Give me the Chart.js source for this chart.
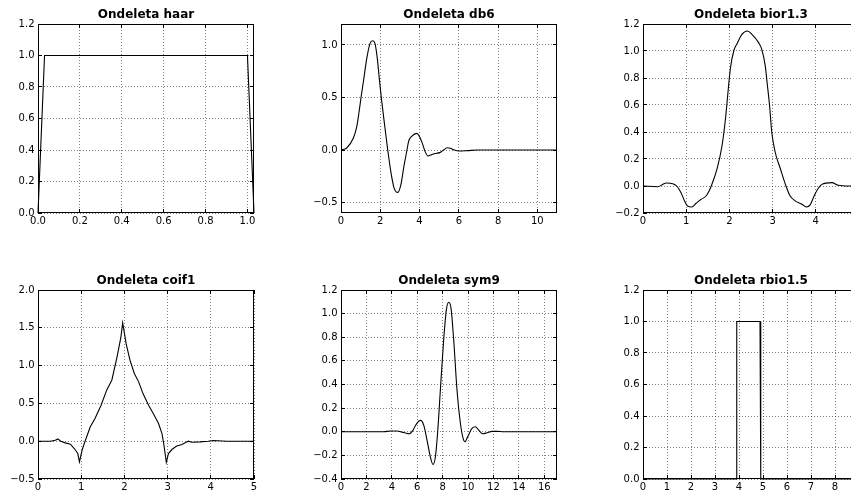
<!DOCTYPE html>
<html>
<head>
<meta charset="utf-8">
<script src="https://cdn.jsdelivr.net/npm/chart.js@4.4.1/dist/chart.umd.min.js"></script>
<style>
  html, body { margin: 0; padding: 0; background: #fff; overflow: hidden; width: 851px; height: 491px; position: relative; }
  canvas { position: absolute; }
</style>
</head>
<body>
<canvas id="haar" width="271" height="233" style="left:-2px;top:0px"></canvas>
<canvas id="db6" width="271" height="233" style="left:301px;top:0px"></canvas>
<canvas id="bior" width="271" height="233" style="left:603px;top:0px"></canvas>
<canvas id="coif" width="271" height="233" style="left:-2px;top:266px"></canvas>
<canvas id="sym" width="271" height="233" style="left:301px;top:266px"></canvas>
<canvas id="rbio" width="271" height="233" style="left:603px;top:266px"></canvas>
<script>
// ---- data ----
const HAAR_X = [0, 0.03125, 1.0, 1.03125];
const HAAR_Y = [0, 1, 1, 0];
const HAAR_XTICKS = [0, 0.2, 0.4, 0.6, 0.8, 1.0];
const HAAR_YTICKS = [0, 0.2, 0.4, 0.6, 0.8, 1.0, 1.2];

const DB6_X = [0, 0.29, 0.63, 0.8, 0.91, 1.02, 1.14, 1.31, 1.48, 1.62, 1.73, 1.85, 1.95, 2.07, 2.24, 2.38, 2.55, 2.7, 2.89, 3.05, 3.2, 3.36, 3.44, 3.6, 3.86, 4.11, 4.28, 4.43, 4.58, 4.75, 5.03, 5.23, 5.4, 5.57, 5.77, 5.99, 6.42, 6.93, 11];
const DB6_Y = [0, 0.019, 0.114, 0.22, 0.35, 0.5, 0.65, 0.87, 1.016, 1.04, 1.016, 0.87, 0.68, 0.47, 0.21, 0.0, -0.22, -0.36, -0.404, -0.33, -0.16, 0.0, 0.08, 0.13, 0.158, 0.08, -0.013, -0.057, -0.047, -0.035, -0.025, 0.0, 0.022, 0.016, 0.0, -0.009, -0.006, 0, 0];
const DB6_XTICKS = [0, 2, 4, 6, 8, 10];
const DB6_YTICKS = [-0.5, 0, 0.5, 1.0];

const BIOR_X = [0, 0.34, 0.46, 0.54, 0.69, 0.78, 0.88, 0.96, 1.03, 1.13, 1.23, 1.34, 1.46, 1.53, 1.58, 1.715, 1.83, 1.91, 1.96, 2.02, 2.1, 2.18, 2.29, 2.42, 2.52, 2.68, 2.75, 2.83, 2.88, 2.93, 2.98, 3.06, 3.18, 3.31, 3.4, 3.52, 3.68, 3.78, 3.87, 3.96, 4.05, 4.14, 4.37, 4.52, 4.77, 5];
const BIOR_Y = [0, -0.005, 0.012, 0.022, 0.017, 0.0, -0.05, -0.11, -0.148, -0.155, -0.128, -0.1, -0.074, -0.037, 0.0, 0.128, 0.3, 0.5, 0.67, 0.865, 1.0, 1.056, 1.123, 1.148, 1.123, 1.06, 1.012, 0.89, 0.744, 0.596, 0.4, 0.25, 0.128, 0.0, -0.07, -0.11, -0.135, -0.155, -0.14, -0.074, -0.02, 0.012, 0.025, 0.005, 0, 0];
const BIOR_XTICKS = [0, 1, 2, 3, 4, 5];
const BIOR_YTICKS = [-0.2, 0, 0.2, 0.4, 0.6, 0.8, 1.0, 1.2];

const COIF_X = [0, 0.29, 0.4, 0.46, 0.53, 0.63, 0.75, 0.84, 0.92, 0.96, 1.02, 1.09, 1.21, 1.32, 1.46, 1.59, 1.71, 1.83, 1.92, 1.96, 2.04, 2.13, 2.23, 2.33, 2.43, 2.56, 2.69, 2.79, 2.87, 2.91, 2.97, 3.02, 3.1, 3.2, 3.33, 3.44, 3.48, 3.56, 3.75, 3.94, 4.06, 4.37, 5];
const COIF_Y = [0, 0, 0.013, 0.03, 0.0, -0.022, -0.04, -0.097, -0.163, -0.273, -0.12, 0.0, 0.19, 0.3, 0.476, 0.675, 0.81, 1.115, 1.38, 1.566, 1.29, 1.07, 0.895, 0.785, 0.63, 0.476, 0.344, 0.234, 0.1, -0.03, -0.28, -0.163, -0.11, -0.066, -0.044, -0.01, 0, -0.013, -0.009, 0.0, 0.009, 0, 0];
const COIF_XTICKS = [0, 1, 2, 3, 4, 5];
const COIF_YTICKS = [-0.5, 0, 0.5, 1.0, 1.5, 2.0];

const SYM_X = [0, 3.36, 3.88, 4.41, 4.8, 5.07, 5.38, 5.67, 5.93, 6.25, 6.51, 6.77, 7.03, 7.24, 7.43, 7.61, 7.82, 8.08, 8.29, 8.48, 8.66, 8.87, 9.13, 9.4, 9.61, 9.76, 9.97, 10.31, 10.58, 10.84, 11.15, 11.5, 11.89, 12.28, 12.8, 17];
const SYM_Y = [0, 0, 0.006, 0.006, -0.003, -0.011, -0.017, 0.014, 0.065, 0.096, 0.056, -0.071, -0.212, -0.277, -0.212, 0.0, 0.353, 0.777, 1.03, 1.096, 1.045, 0.777, 0.353, 0.07, -0.056, -0.085, -0.042, 0.028, 0.042, 0.014, -0.017, -0.008, 0.003, 0.003, 0, 0];
const SYM_XTICKS = [0, 2, 4, 6, 8, 10, 12, 14, 16];
const SYM_YTICKS = [-0.4, -0.2, 0, 0.2, 0.4, 0.6, 0.8, 1.0, 1.2];

const RBIO_X = [0, 3.875, 3.90625, 4.875, 4.90625, 9];
const RBIO_Y = [0, 0, 1, 1, 0, 0];
const RBIO_XTICKS = [0, 1, 2, 3, 4, 5, 6, 7, 8, 9];
const RBIO_YTICKS = [0, 0.2, 0.4, 0.6, 0.8, 1.0, 1.2];

const FONT = "'DejaVu Sans', 'Liberation Sans', sans-serif";

// matplotlib-style box with inward ticks on all four sides
const framePlugin = {
  id: "frame",
  afterDatasetsDraw(chart) {
    const { ctx, chartArea: a, scales: { x, y } } = chart;
    const al = (p) => Math.round(p - 0.5) + 0.5;
    ctx.save();
    ctx.strokeStyle = "#000";
    ctx.lineWidth = 1;
    ctx.strokeRect(a.left + 0.5, a.top + 0.5, a.width - 1, a.height - 1);
    ctx.beginPath();
    for (const t of x.ticks) {
      const p = al(x.getPixelForValue(t.value));
      ctx.moveTo(p, a.top); ctx.lineTo(p, a.top + 4);
      ctx.moveTo(p, a.bottom); ctx.lineTo(p, a.bottom - 4);
    }
    for (const t of y.ticks) {
      const p = al(y.getPixelForValue(t.value));
      ctx.moveTo(a.left, p); ctx.lineTo(a.left + 4, p);
      ctx.moveTo(a.right, p); ctx.lineTo(a.right - 4, p);
    }
    ctx.stroke();
    ctx.restore();
  },
};

function fmt(decimals) {
  return (v) => (v < 0 ? "\u2212" : "") + Math.abs(v).toFixed(decimals);
}

function axis(min, max, ticks, decimals, isY) {
  return {
    type: "linear",
    min, max,
    afterBuildTicks: (s) => { s.ticks = ticks.map((v) => ({ value: v })); },
    afterFit: (s) => { if (isY) s.width = 40; else s.height = 20; },
    ticks: {
      autoSkip: false,
      maxRotation: 0,
      padding: isY ? 3.5 : 2,
      color: "#000",
      font: { family: FONT, size: 10 },
      callback: fmt(decimals),
    },
    grid: { drawTicks: false, color: "rgba(0,0,0,0.5)", lineWidth: 1 },
    border: { display: false, dash: [1, 2] },
  };
}

function panel(id, title, xs, ys, xr, yr, xTicks, yTicks, xDec, yDec, smooth) {
  new Chart(document.getElementById(id), {
    type: "line",
    data: {
      datasets: [{
        data: xs.map((x, i) => ({ x, y: ys[i] })),
        borderColor: "#000",
        borderWidth: 1.1,
        pointRadius: 0,
        fill: false,
        clip: false,
        cubicInterpolationMode: smooth ? "monotone" : "default",
        tension: 0,
      }],
    },
    options: {
      responsive: false,
      animation: false,
      devicePixelRatio: 1,
      layout: { padding: { left: 0, right: 15, top: 0, bottom: 0 } },
      scales: {
        x: axis(xr[0], xr[1], xTicks, xDec, false),
        y: axis(yr[0], yr[1], yTicks, yDec, true),
      },
      plugins: {
        legend: { display: false },
        tooltip: { enabled: false },
        title: {
          display: true,
          text: title,
          fullSize: false,
          color: "#000",
          font: { family: FONT, size: 12, weight: "bold" },
          padding: { top: 8, bottom: 1.6 },
        },
      },
    },
    plugins: [framePlugin],
  });
}

panel("haar", "Ondeleta haar", HAAR_X, HAAR_Y, [0, 1.03125], [0, 1.2], HAAR_XTICKS, HAAR_YTICKS, 1, 1, false);
panel("db6", "Ondeleta db6", DB6_X, DB6_Y, [0, 11], [-0.6, 1.2], DB6_XTICKS, DB6_YTICKS, 0, 1, true);
panel("bior", "Ondeleta bior1.3", BIOR_X, BIOR_Y, [0, 5], [-0.2, 1.2], BIOR_XTICKS, BIOR_YTICKS, 0, 1, true);
panel("coif", "Ondeleta coif1", COIF_X, COIF_Y, [0, 5], [-0.5, 2.0], COIF_XTICKS, COIF_YTICKS, 0, 1, false);
panel("sym", "Ondeleta sym9", SYM_X, SYM_Y, [0, 17], [-0.4, 1.2], SYM_XTICKS, SYM_YTICKS, 0, 1, true);
panel("rbio", "Ondeleta rbio1.5", RBIO_X, RBIO_Y, [0, 9], [0, 1.2], RBIO_XTICKS, RBIO_YTICKS, 0, 1, false);
</script>
</body>
</html>
